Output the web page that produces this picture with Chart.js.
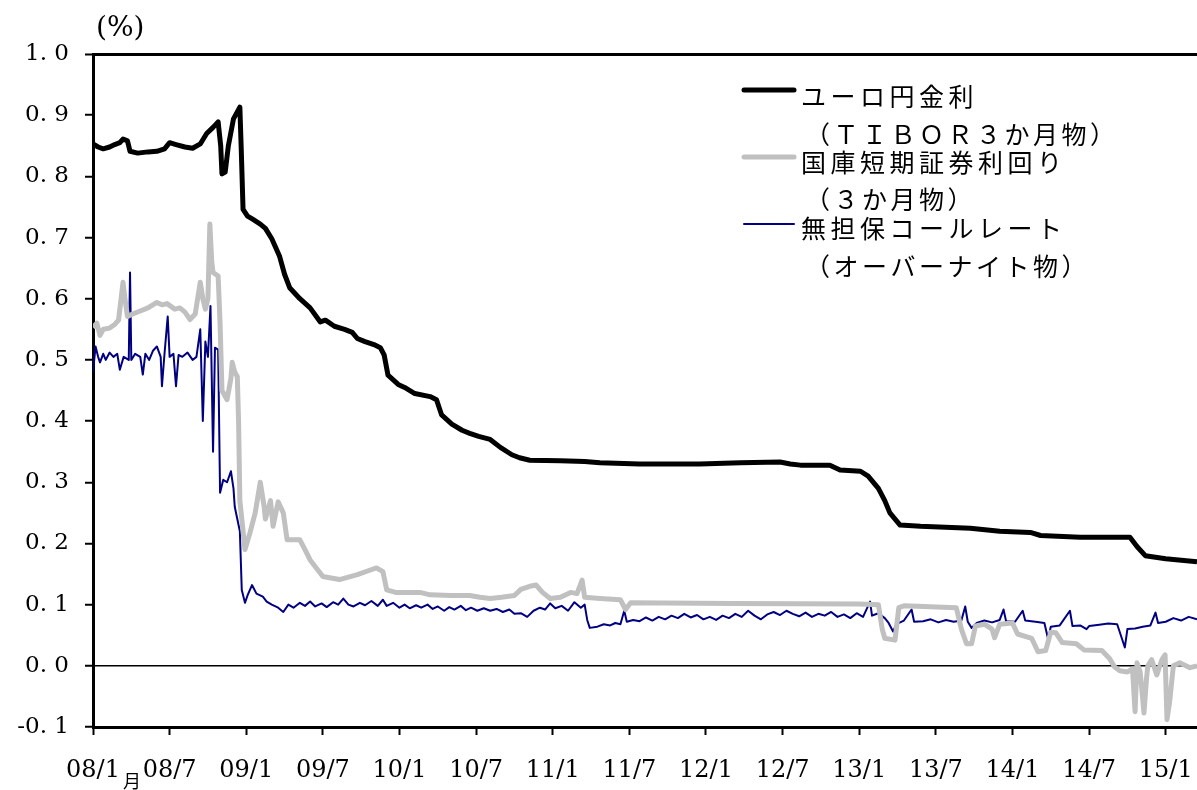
<!DOCTYPE html>
<html>
<head>
<meta charset="utf-8">
<script src="https://cdn.jsdelivr.net/npm/chart.js@4"></script>
<style>
  html,body{margin:0;padding:0;background:#fff;}
  #wrap{width:1197px;height:790px;position:relative;}
</style>
</head>
<body>
<div id="wrap"><canvas id="c"></canvas></div>
<script>
// x = months since 2008/1, y = %
const tiborX = [0,0.4,0.8,1.3,1.7,2.1,2.35,2.7,2.9,3.5,4.3,5.0,5.6,6.0,6.5,7.2,7.8,8.4,8.9,9.4,9.8,10.0,10.1,10.35,10.6,11.0,11.5,11.6,11.75,12.1,12.5,13.1,13.5,14.0,14.6,15.0,15.4,16.2,17.0,17.8,18.2,18.9,19.7,20.3,20.7,21.3,22.0,22.5,22.8,23.1,23.9,24.4,25.2,26.4,26.9,27.3,28.1,28.9,29.5,30.2,31.1,31.9,32.8,33.4,34.2,36.6,38.5,39.7,42.8,47.5,50.7,53.8,54.6,55.4,57.7,58.5,60.1,60.7,61.5,62.0,62.4,63.2,64.8,68.7,71.0,73.4,74.2,77.3,81.2,81.75,82.4,84.0,86.45];
const tiborY = [0.853,0.848,0.845,0.848,0.852,0.855,0.861,0.858,0.841,0.838,0.840,0.841,0.845,0.855,0.852,0.848,0.846,0.853,0.870,0.880,0.889,0.850,0.804,0.807,0.850,0.894,0.913,0.850,0.746,0.735,0.730,0.722,0.715,0.698,0.670,0.640,0.618,0.600,0.585,0.562,0.565,0.555,0.550,0.545,0.535,0.530,0.525,0.520,0.508,0.475,0.460,0.455,0.445,0.440,0.435,0.410,0.395,0.385,0.380,0.375,0.370,0.357,0.345,0.340,0.336,0.335,0.334,0.332,0.330,0.330,0.332,0.333,0.330,0.328,0.328,0.320,0.318,0.310,0.290,0.270,0.250,0.230,0.228,0.225,0.220,0.218,0.213,0.210,0.210,0.195,0.180,0.175,0.170];

const billX = [0,0.3,0.55,0.8,1.3,1.7,2.0,2.35,2.5,2.7,3.1,3.7,4.3,5.0,5.4,5.8,6.4,6.8,7.2,7.6,8.0,8.4,8.6,8.8,9.0,9.15,9.3,9.4,9.6,9.8,9.95,10.1,10.5,10.8,10.9,11.1,11.3,11.4,11.5,11.9,12.3,12.7,13.1,13.4,13.5,13.9,14.1,14.5,14.9,15.2,16.2,16.6,17.0,18.0,19.3,20.0,20.7,21.5,22.2,22.7,23.0,23.7,25.6,26.4,28.0,29.5,30.3,31.1,32.0,33.0,33.5,34.2,34.7,35.2,35.8,36.6,37.4,37.9,38.3,38.5,39.7,41.3,41.7,42.1,50.0,60.0,61.5,61.8,62.0,62.8,63.1,63.5,67.6,68.0,68.4,68.8,69.1,69.8,70.4,70.6,71.0,72.0,72.4,73.5,74.0,74.6,75.0,75.4,75.9,77.0,77.6,79.0,79.6,80.0,80.4,81.0,81.4,81.6,81.75,82.0,82.3,82.5,82.6,82.9,83.3,83.7,83.95,84.1,84.3,84.6,85.1,85.9,86.45];
const billY = [0.553,0.560,0.540,0.550,0.552,0.558,0.565,0.627,0.600,0.571,0.575,0.580,0.585,0.594,0.590,0.592,0.583,0.585,0.578,0.566,0.575,0.627,0.600,0.583,0.600,0.722,0.660,0.643,0.640,0.637,0.560,0.450,0.435,0.470,0.496,0.480,0.473,0.400,0.270,0.190,0.218,0.250,0.300,0.260,0.240,0.270,0.228,0.268,0.250,0.206,0.206,0.190,0.173,0.146,0.141,0.145,0.149,0.155,0.160,0.154,0.124,0.120,0.120,0.116,0.115,0.115,0.112,0.110,0.112,0.115,0.125,0.130,0.132,0.120,0.110,0.112,0.120,0.118,0.140,0.112,0.110,0.108,0.092,0.103,0.102,0.101,0.100,0.060,0.045,0.042,0.095,0.098,0.095,0.060,0.036,0.036,0.065,0.068,0.060,0.046,0.068,0.070,0.052,0.045,0.023,0.025,0.055,0.054,0.038,0.036,0.026,0.025,0.012,-0.002,-0.008,-0.010,-0.005,-0.075,0.005,-0.010,-0.077,-0.020,0.000,0.010,-0.015,0.010,0.018,-0.088,-0.060,0.000,0.005,-0.003,0.000];

const callX = [0,0.2,0.4,0.55,0.8,1.0,1.3,1.6,1.9,2.1,2.4,2.8,2.9,3.0,3.3,3.7,3.9,4.1,4.4,4.7,5.0,5.3,5.4,5.6,5.85,6.0,6.3,6.5,6.7,7.0,7.4,7.8,8.1,8.4,8.6,8.8,9.0,9.2,9.4,9.55,9.8,9.95,10.2,10.5,10.8,11.0,11.1,11.5,11.65,11.9,12.1,12.45,12.8,13.3,13.6,14.0,14.5,14.9,15.3,15.7,16.2,16.6,17.0,17.4,17.9,18.3,18.8,19.2,19.6,20.0,20.4,20.9,21.3,21.8,22.3,22.7,23.0,23.5,24.0,24.4,24.8,25.3,25.7,26.2,26.6,27.0,27.5,27.9,28.3,28.8,29.2,29.6,30.1,30.6,31.1,31.6,32.1,32.6,33.0,33.5,34.0,34.5,35.0,35.4,35.8,36.2,36.7,37.2,37.7,38.2,38.5,38.7,38.9,39.5,40.0,40.5,40.9,41.3,41.6,41.8,42.3,42.8,43.3,43.8,44.3,44.8,45.3,45.8,46.3,46.8,47.3,47.8,48.3,48.8,49.3,49.8,50.3,50.8,51.3,51.8,52.3,52.8,53.3,53.8,54.3,54.8,55.3,55.8,56.3,56.8,57.3,57.8,58.3,58.8,59.3,59.8,60.3,60.85,61.0,61.5,62.0,62.3,62.65,62.9,63.5,64.1,64.3,65.0,65.6,66.2,66.8,67.4,68.0,68.3,68.5,68.8,69.2,69.8,70.4,71.0,71.3,71.5,72.2,72.8,73.0,73.8,74.5,74.8,75.0,75.7,76.5,76.7,77.3,77.8,78.0,78.8,79.5,80.2,80.8,81.0,81.6,82.2,82.8,83.2,83.4,84.0,84.6,85.2,85.8,86.45];
const callY = [0.480,0.522,0.505,0.496,0.510,0.500,0.512,0.505,0.510,0.484,0.505,0.500,0.643,0.500,0.510,0.505,0.476,0.510,0.500,0.515,0.522,0.505,0.457,0.510,0.571,0.505,0.510,0.457,0.508,0.505,0.512,0.500,0.505,0.550,0.400,0.530,0.505,0.588,0.350,0.520,0.517,0.283,0.304,0.300,0.318,0.290,0.260,0.220,0.124,0.103,0.115,0.132,0.118,0.113,0.105,0.100,0.095,0.088,0.100,0.095,0.103,0.098,0.105,0.097,0.102,0.096,0.104,0.100,0.110,0.100,0.097,0.103,0.099,0.106,0.098,0.108,0.098,0.103,0.095,0.100,0.094,0.099,0.095,0.100,0.093,0.097,0.090,0.096,0.092,0.098,0.091,0.095,0.090,0.094,0.090,0.093,0.088,0.092,0.085,0.086,0.080,0.090,0.095,0.092,0.102,0.094,0.098,0.090,0.104,0.095,0.100,0.075,0.062,0.064,0.068,0.066,0.070,0.068,0.090,0.072,0.075,0.073,0.079,0.074,0.080,0.076,0.082,0.078,0.085,0.079,0.083,0.076,0.080,0.075,0.082,0.078,0.085,0.080,0.090,0.082,0.076,0.084,0.088,0.083,0.090,0.085,0.081,0.087,0.080,0.085,0.082,0.088,0.080,0.084,0.078,0.086,0.080,0.105,0.082,0.086,0.078,0.070,0.056,0.068,0.074,0.092,0.072,0.073,0.076,0.071,0.075,0.072,0.074,0.097,0.072,0.062,0.070,0.074,0.071,0.075,0.092,0.073,0.072,0.090,0.074,0.072,0.070,0.043,0.064,0.066,0.090,0.065,0.066,0.060,0.065,0.067,0.069,0.068,0.030,0.060,0.061,0.064,0.066,0.087,0.070,0.072,0.078,0.074,0.080,0.076];

const tickMonths = [0,6,12,18,24,30,36,42,48,54,60,66,72,78,84];
const tickLabels = ["08/1","08/7","09/1","09/7","10/1","10/7","11/1","11/7","12/1","12/7","13/1","13/7","14/1","14/7","15/1"];

const legendRows = [
  ["ユーロ円金利", "（ＴＩＢＯＲ３か月物）"],
  ["国庫短期証券利回り", "（３か月物）"],
  ["無担保コールレート", "（オーバーナイト物）"]
];

const pts = (xs, ys) => xs.map((x,i)=>({x, y: ys[i]}));
const serif = "'DejaVu Serif','Liberation Serif',serif";
const jp = "'Noto Sans CJK JP','Noto Sans CJK SC',sans-serif";

const extras = {
  id: "extras",
  afterDraw(chart){
    const ctx = chart.ctx;
    const ds = chart.data.datasets;
    ctx.save();
    ctx.fillStyle = "#000";
    ctx.font = "28px " + serif;
    ctx.textBaseline = "middle";
    ctx.textAlign = "left";
    ctx.fillText("(%)", 96, 29);
    // stray glyph under the axis
    ctx.font = "18px " + jp;
    ctx.fillText("月", 123, 781);
    // legend
    const lineY = [90, 157, 224];
    const rowY = [[96, 134], [162, 199], [228, 266]];
    ctx.font = "25px " + jp;
    legendRows.forEach((row, i) => {
      ctx.strokeStyle = ds[i].borderColor;
      ctx.lineWidth = ds[i].borderWidth;
      ctx.lineCap = "round";
      ctx.beginPath(); ctx.moveTo(744, lineY[i]); ctx.lineTo(794, lineY[i]); ctx.stroke();
      ctx.letterSpacing = "4.5px";
      ctx.fillText(row[0], 801, rowY[i][0]);
      ctx.letterSpacing = "3.5px";
      ctx.fillText(row[1], 805, rowY[i][1]);
    });
    ctx.restore();
  }
};

new Chart(document.getElementById("c"), {
  type: "line",
  data: {
    datasets: [
      {label: "ユーロ円金利", data: pts(tiborX, tiborY), borderColor: "#000000", borderWidth: 5},
      {label: "国庫短期証券利回り", data: pts(billX, billY), borderColor: "#c0c0c0", borderWidth: 5},
      {label: "無担保コールレート", data: pts(callX, callY), borderColor: "#000080", borderWidth: 2}
    ].map(d => Object.assign(d, {pointRadius: 0, tension: 0, borderJoinStyle: "round", fill: false}))
  },
  options: {
    responsive: true, maintainAspectRatio: false, animation: false,
    layout: {padding: {top: 54, right: 0, left: 0, bottom: 0}},
    plugins: {legend: {display: false}, tooltip: {enabled: false}},
    scales: {
      x: {
        type: "linear", min: 0, max: 86.45,
        afterFit: s => { s.height = 63; s.paddingLeft = 0; s.paddingRight = 0; },
        afterBuildTicks: s => { s.ticks = tickMonths.map(v => ({value: v})); },
        border: {color: "#000", width: 3},
        grid: {drawOnChartArea: false, tickLength: 8, tickColor: "#000", tickWidth: 2},
        ticks: {
          autoSkip: false, maxRotation: 0, padding: 21, color: "#000",
          font: {family: serif, size: 24},
          callback: v => tickLabels[tickMonths.indexOf(v)] || ""
        }
      },
      y: {
        min: -0.1, max: 1.0,
        afterFit: s => { s.width = 93; },
        border: {color: "#000", width: 3},
        grid: {
          tickLength: 8, tickColor: "#000", tickWidth: 2,
          color: c => (Math.abs(c.tick.value) < 1e-9 || Math.abs(c.tick.value - 1) < 1e-9) ? "#000" : "rgba(0,0,0,0)",
          lineWidth: c => Math.abs(c.tick.value - 1) < 1e-9 ? 3 : 1.5
        },
        ticks: {
          stepSize: 0.1, padding: 16, color: "#000",
          font: {family: serif, size: 23},
          callback: v => v.toFixed(1).replace(".", ". ")
        }
      }
    }
  },
  plugins: [extras]
});
</script>
</body>
</html>
